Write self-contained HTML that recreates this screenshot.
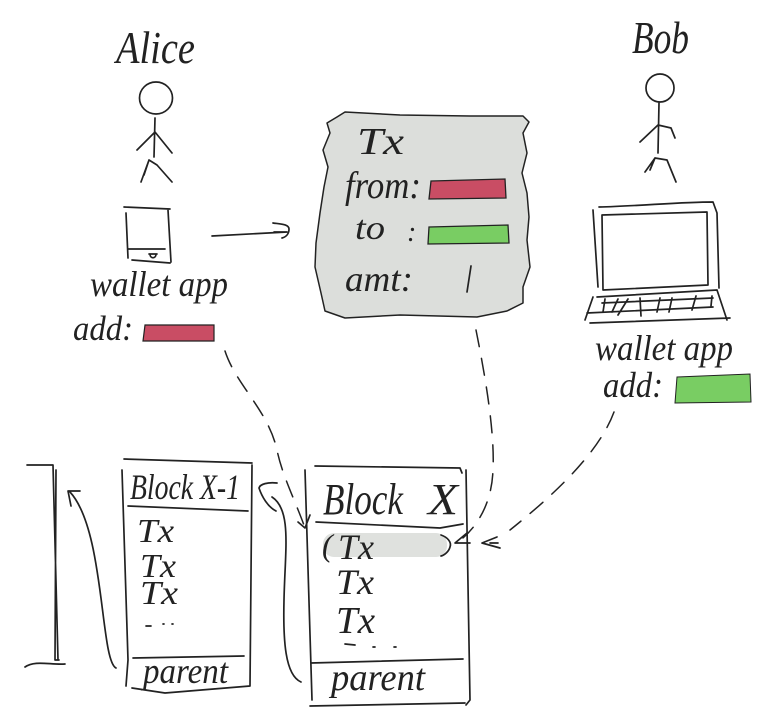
<!DOCTYPE html>
<html><head><meta charset="utf-8"><style>
html,body{margin:0;padding:0;background:#fff}
svg{display:block}
text{font-family:"Liberation Serif",serif;font-style:italic;fill:#222;stroke:none}
.l{fill:none;stroke:#222;stroke-width:1.7;stroke-linecap:round;stroke-linejoin:round}
.d{fill:none;stroke:#222;stroke-width:1.5;stroke-dasharray:17 12;stroke-linecap:round}
</style></head><body>
<svg width="771" height="727" viewBox="0 0 771 727" xmlns="http://www.w3.org/2000/svg">
<rect width="771" height="727" fill="#fff"/>
<!-- Alice -->
<text x="116" y="63" font-size="46" textLength="79" lengthAdjust="spacingAndGlyphs">Alice</text>
<ellipse class="l" cx="156" cy="98" rx="16.5" ry="16"/>
<path class="l" d="M155 118L154 157M137 150L155 132L172 153M141 182L149 160L157 165L172 182M149 160L144 175"/>
<path class="l" d="M124 207L170 209M126 213L128 258M168 210L171 262M132 260L170 263M128 249H165M149 254H157M150 254C150 259 156 259 156 254"/>
<path class="l" d="M212 236L287 232M273 223C280 224 289 224 289 229C289 234 286 237 282 238M274 232L287 232"/>
<text x="90" y="296" font-size="36" textLength="138" lengthAdjust="spacingAndGlyphs">wallet app</text>
<text x="73" y="340" font-size="35" textLength="60" lengthAdjust="spacingAndGlyphs">add:</text>
<path d="M145 325H214V341H143Z" fill="#c94d64" stroke="#222" stroke-width="1.2"/>

<!-- Tx box -->
<path d="M337 117L345 112L400 115L470 116L523 116L529 122L523 133L527 153L522 173L527 193L529 217L527 240L530 267L523 287L523 303L507 311L477 317L400 315L345 318L325 311L321 293L315 267L316 243L320 213L324 187L328 167L323 150L330 133L327 123Z" fill="#dcdedb" stroke="#222" stroke-width="1.5" stroke-linejoin="round"/>
<text x="357" y="154" font-size="38" textLength="47" lengthAdjust="spacingAndGlyphs">Tx</text>
<text x="345" y="198" font-size="38" textLength="76" lengthAdjust="spacingAndGlyphs">from:</text>
<path d="M431 181L505 179L506 198L429 199Z" fill="#c94d64" stroke="#222" stroke-width="1.3"/>
<text x="355" y="239" font-size="34" textLength="30" lengthAdjust="spacingAndGlyphs">to</text>
<text x="407" y="241" font-size="28">:</text>
<path d="M429 227L508 225L509 243L428 244Z" fill="#79cd63" stroke="#222" stroke-width="1.3"/>
<text x="345" y="291" font-size="36" textLength="68" lengthAdjust="spacingAndGlyphs">amt:</text>
<path class="l" d="M471 266L467 292"/>

<!-- Bob -->
<text x="632" y="53" font-size="46" textLength="57" lengthAdjust="spacingAndGlyphs">Bob</text>
<circle class="l" cx="660" cy="88" r="14"/>
<path class="l" d="M659 103L658 153M640 142L658 125L671 128L675 138M645 172L655 158L667 160L676 182M655 158L650 170"/>
<path class="l" d="M599 207C640 206 680 202 713 202L717 213L719 288M593 210L598 287"/>
<path class="l" d="M602 215L707 212L708 285L603 290Z"/>
<path class="l" d="M597 297L717 290M593 297L585 320M717 290L727 320M602 303L713 298M587 313L713 307M590 323L730 318"/>
<path class="l" d="M605 299L603 312M618 299L612 312M628 299L618 315M640 298L641 316M660 298L657 312M672 298L669 312M696 296L692 310M712 296L711 306"/>
<text x="595" y="360" font-size="36" textLength="138" lengthAdjust="spacingAndGlyphs">wallet app</text>
<text x="603" y="397" font-size="36" textLength="60" lengthAdjust="spacingAndGlyphs">add:</text>
<path d="M677 377L750 374L751 402L675 403Z" fill="#79cd63" stroke="#222" stroke-width="1"/>

<!-- Dashed -->
<path class="d" d="M225 351C236 385 268 410 277 450C282 475 295 500 305 528"/>
<path class="l" d="M298 522L305 528L310 515"/>
<path class="d" d="M476 330C484 370 495 430 493 470C492 500 480 523 463 538"/>
<path class="l" d="M467 533L455 543H470"/>
<path class="d" d="M614 412C600 450 560 490 510 530"/>
<path class="l" d="M497 537L482 543L500 548M498 543H490"/>

<!-- Chain -->
<path class="l" d="M27 465H53L58 660M56 470L55 660L59 660M25 667C35 660 50 665 65 664"/>
<path class="l" d="M116 668C100 660 105 530 70 492M80 491L68 491L71 506"/>
<path class="l" d="M124 459L252 463M122 470L128 660L126 686M252 465L250 686M132 688L165 693L250 686M128 506L248 511M133 658L244 656"/>
<text x="130" y="499" font-size="36" textLength="110" lengthAdjust="spacingAndGlyphs">Block X-1</text>
<text x="137" y="542" font-size="34" textLength="37" lengthAdjust="spacingAndGlyphs">Tx</text>
<text x="140" y="577" font-size="34" textLength="36" lengthAdjust="spacingAndGlyphs">Tx</text>
<text x="140" y="604" font-size="34" textLength="38" lengthAdjust="spacingAndGlyphs">Tx</text>
<path class="l" d="M146 626H151M163 624H164M172 624H173"/>
<text x="143" y="683" font-size="36" textLength="85" lengthAdjust="spacingAndGlyphs">parent</text>
<path class="l" d="M277 483C268 482 260 484 259 488C262 497 268 507 276 511M272 497C292 510 285 550 284 600C283 640 285 675 301 682"/>

<path class="l" d="M315 466L460 468L462 473M305 470L312 700M466 470L470 700L466 705M310 706L465 703M316 522L440 528L463 524M311 663L463 659"/>
<text x="323" y="514" font-size="44" textLength="80" lengthAdjust="spacingAndGlyphs">Block</text>
<text x="428" y="514" font-size="44" textLength="30" lengthAdjust="spacingAndGlyphs">X</text>
<rect x="323" y="533" width="124" height="24" rx="11" fill="#dfe1de"/>
<text x="322" y="556" font-size="32">(</text>
<text x="338" y="559" font-size="36" textLength="36" lengthAdjust="spacingAndGlyphs">Tx</text>
<path class="l" d="M441 535C447 537 452 542 450 547C449 551 445 555 441 556"/>
<text x="336" y="594" font-size="36" textLength="38" lengthAdjust="spacingAndGlyphs">Tx</text>
<text x="336" y="633" font-size="38" textLength="39" lengthAdjust="spacingAndGlyphs">Tx</text>
<path class="l" d="M345 644L355 645M373 647H375M394 647H396"/>
<text x="331" y="690" font-size="38" textLength="94" lengthAdjust="spacingAndGlyphs">parent</text>
</svg>
</body></html>
